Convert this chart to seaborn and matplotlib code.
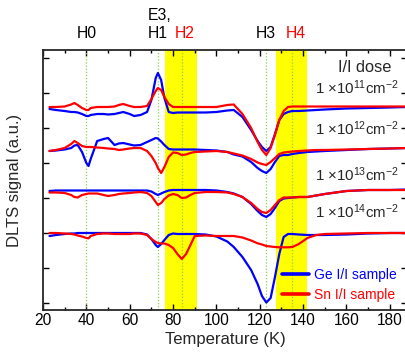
import numpy as np
import pandas as pd
import matplotlib
matplotlib.use("Agg")
import matplotlib.pyplot as plt
import seaborn as sns
from matplotlib.lines import Line2D
from matplotlib.ticker import MultipleLocator

# ---------------- data (DLTS spectra, offset per dose, a.u.) ----------------
temperature = [23, 26, 30, 33, 34.5, 36, 38, 40, 41, 42, 45, 48, 50, 53, 55,
               57, 60, 62, 65, 68, 70, 72, 73, 74.5, 76, 78, 80, 82, 84, 86,
               88, 90, 95, 100, 105, 108, 112, 116, 119, 121, 123, 125, 127, 129, 131,
               133, 135, 138, 142, 146, 150, 160, 170, 180, 188]

ge_1e11 = [201, 200, 199, 198, 198, 197.5, 196, 194, 194, 195, 196, 196, 195.5, 196, 197,
           198, 196, 194, 195, 198, 210, 232, 237, 230, 212, 198, 197, 197.5, 197.5, 197.5,
           197.5, 197.5, 197.5, 198, 199.5, 200, 193, 180, 169, 163, 159, 163, 176, 190, 196,
           198, 199, 199, 199.5, 200, 200.5, 201.5, 202, 202.5, 203]
sn_1e11 = [203, 203, 203.5, 205.5, 207, 205, 202, 200, 200, 202, 203, 203, 203, 203.5, 205,
           206, 204, 203, 203, 204, 211, 219, 222, 220, 213, 206, 203, 203, 203, 203,
           203, 203, 203, 203, 205, 205.5, 196, 182, 168, 160, 155, 162, 175, 190, 199,
           203, 203.5, 203.5, 203.5, 203.5, 203.5, 203.5, 203.5, 203.5, 203.5]

ge_1e12 = [159, 159.5, 160.5, 162, 164.5, 165, 158, 147, 144, 151, 169, 171, 172, 165, 166.5,
           167, 165.5, 164.5, 165, 168, 170, 172, 171.5, 168.5, 165, 161, 160.5, 160.5, 160.5, 160.5,
           160.5, 160.5, 160, 159.5, 158, 155.5, 153.5, 148, 142, 139, 137, 141, 148, 154, 155,
           155, 156, 157, 158, 158.5, 159, 160, 161, 161.5, 162]
sn_1e12 = [159, 160, 162, 166, 169, 167, 164, 163, 163, 163, 162.5, 162, 161.5, 161, 160,
           160.5, 161.5, 162, 162, 159, 154, 147, 142, 137, 143, 153, 157.5, 157, 155, 155.5,
           157, 158, 158.5, 159, 158, 156.5, 154.5, 151, 147.5, 146, 145, 148, 152, 156, 157.5,
           158, 158.5, 159, 159.5, 160, 160, 160.5, 161, 161.5, 162]

ge_1e13 = [119, 119.5, 119.5, 119.5, 119.5, 119.5, 119.5, 119.5, 119.5, 119.5, 119.5, 119.5, 119.5, 119.5, 119.5,
           119.5, 119.5, 119.5, 119.5, 119.5, 118.5, 116, 115, 116.5, 118, 119.5, 120, 120, 120, 120,
           120, 120, 120, 119.5, 118, 116.5, 113, 106, 99, 95, 93, 96, 102, 109, 111.5,
           112, 112.5, 113, 113, 114.5, 116, 119, 120, 120, 120.5]
sn_1e13 = [117.5, 117.5, 117, 115, 113, 112.5, 115, 116, 116.5, 116.5, 116.5, 115, 114, 115, 116,
           116.5, 117, 117.5, 118, 117, 114, 108, 105, 107, 111, 114.5, 116, 115, 112, 112.5,
           115, 117, 118, 118, 117.5, 116, 113, 107, 101, 98, 97, 100, 105, 110, 112.5,
           112.5, 112.5, 113, 113, 114.5, 116, 119, 120, 120, 120]

ge_1e14 = [74, 75, 76, 76.5, 76.5, 77, 77, 77, 77, 77, 77, 77, 77, 77, 77,
           77, 77, 77, 77, 75.5, 71, 65, 63, 66, 70, 75, 76.5, 76, 76, 76,
           76, 76, 75.5, 73.5, 68.5, 63, 53, 40, 26, 14, 7.5, 12, 33, 56, 73,
           76, 76, 75.5, 75, 75, 75, 75.5, 76.5, 77, 77]
sn_1e14 = [77, 77, 76.5, 76, 75.5, 74.5, 73.5, 72, 71.7, 74, 76, 76.5, 76.5, 76, 76,
           76, 76, 76.5, 76.5, 75, 71, 68, 67, 66.5, 66.5, 65, 62, 56, 51, 56,
           65, 74, 74.5, 74, 74, 74, 72.5, 69.5, 66.7, 65.5, 64, 63.5, 63, 62.7, 62.7,
           62.7, 63, 66, 72, 75, 76, 76.5, 77, 77, 77]

doses = ["1e11", "1e12", "1e13", "1e14"]
dose_labels = [r"1 ×10$^{11}$cm$^{-2}$", r"1 ×10$^{12}$cm$^{-2}$",
               r"1 ×10$^{13}$cm$^{-2}$", r"1 ×10$^{14}$cm$^{-2}$"]
dose_label_y = [222, 181, 135, 98]
ge_series = [ge_1e11, ge_1e12, ge_1e13, ge_1e14]
sn_series = [sn_1e11, sn_1e12, sn_1e13, sn_1e14]

samples = ["Ge I/I sample", "Sn I/I sample"]
colors = {"Ge I/I sample": "#0000ff", "Sn I/I sample": "#ff0000"}

peak_T = [40, 73, 84, 123, 135]
band_H2 = (76.3, 91.0)
band_H4 = (127.5, 142.0)

# ---------------- long-form table ----------------
rows = []
for dose, ge, sn in zip(doses, ge_series, sn_series):
    for t, g, s in zip(temperature, ge, sn):
        rows.append({"T": t, "signal": g, "sample": samples[0], "dose": dose})
        rows.append({"T": t, "signal": s, "sample": samples[1], "dose": dose})
df = pd.DataFrame(rows)

# ---------------- style ----------------
sns.set_style("ticks")
plt.rcParams["font.family"] = ["Liberation Sans", "DejaVu Sans"]
plt.rcParams["mathtext.default"] = "regular"
plt.rcParams["axes.linewidth"] = 1.3

fig = plt.figure(figsize=(4.06, 3.56), dpi=100)
ax = fig.add_axes([43 / 406, 46 / 356, 364.2 / 406, 260 / 356])

ax.axvspan(*band_H2, color="#ffff00", lw=0, zorder=0)
ax.axvspan(*band_H4, color="#ffff00", lw=0, zorder=0)
for t in peak_T:
    ax.axvline(t, color="#8fd14f", lw=0.9, ls=(0, (1, 1.5)), zorder=1)

sns.lineplot(data=df, x="T", y="signal", hue="sample", units="dose",
             estimator=None, sort=False, palette=colors, hue_order=samples,
             lw=1.6, legend=False, ax=ax, zorder=3)

ax.set_xlim(20, 188)
ax.set_ylim(0, 260)
ax.xaxis.set_major_locator(MultipleLocator(20))
ax.xaxis.set_minor_locator(MultipleLocator(10))
ax.set_yticks([7, 42, 77, 112, 147, 182, 217, 252])
ax.set_yticklabels([])
ax.tick_params(which="both", direction="in", top=True, right=True,
               labelsize=11.2, width=1.0, colors="black", pad=2)
ax.tick_params(which="major", length=4)
ax.tick_params(which="minor", length=2.5)

ax.set_xlabel("Temperature (K)", fontsize=12, labelpad=3)
ax.set_ylabel("DLTS signal (a.u.)", fontsize=12, labelpad=13)

# peak labels above the axes
PK = 11.3
ax.text(40, 277, "H0", ha="center", va="center", fontsize=PK, color="black")
ax.text(68.2, 295, "E3,", ha="left", va="center", fontsize=PK, color="black")
ax.text(68.2, 277, "H1", ha="left", va="center", fontsize=PK, color="black")
ax.text(85.2, 277, "H2", ha="center", va="center", fontsize=PK, color="red")
ax.text(123, 277, "H3", ha="center", va="center", fontsize=PK, color="black")
ax.text(136.6, 277, "H4", ha="center", va="center", fontsize=PK, color="red")

# dose annotations
ax.text(168.5, 243, "I/I dose", ha="center", va="center", fontsize=11.8)
for lbl, yy in zip(dose_labels, dose_label_y):
    ax.text(145.5, yy, lbl, ha="left", va="center", fontsize=10.8)

handles = [Line2D([], [], color=colors[s], lw=2.6) for s in samples]
ax.legend(handles, samples, loc="lower left", bbox_to_anchor=(0.657, 0.032),
          frameon=False, fontsize=10, handlelength=1.95, handletextpad=0.35,
          labelspacing=0.42, borderpad=0, borderaxespad=0,
          labelcolor=[colors[s] for s in samples])

fig.savefig("out.png", dpi=100)
